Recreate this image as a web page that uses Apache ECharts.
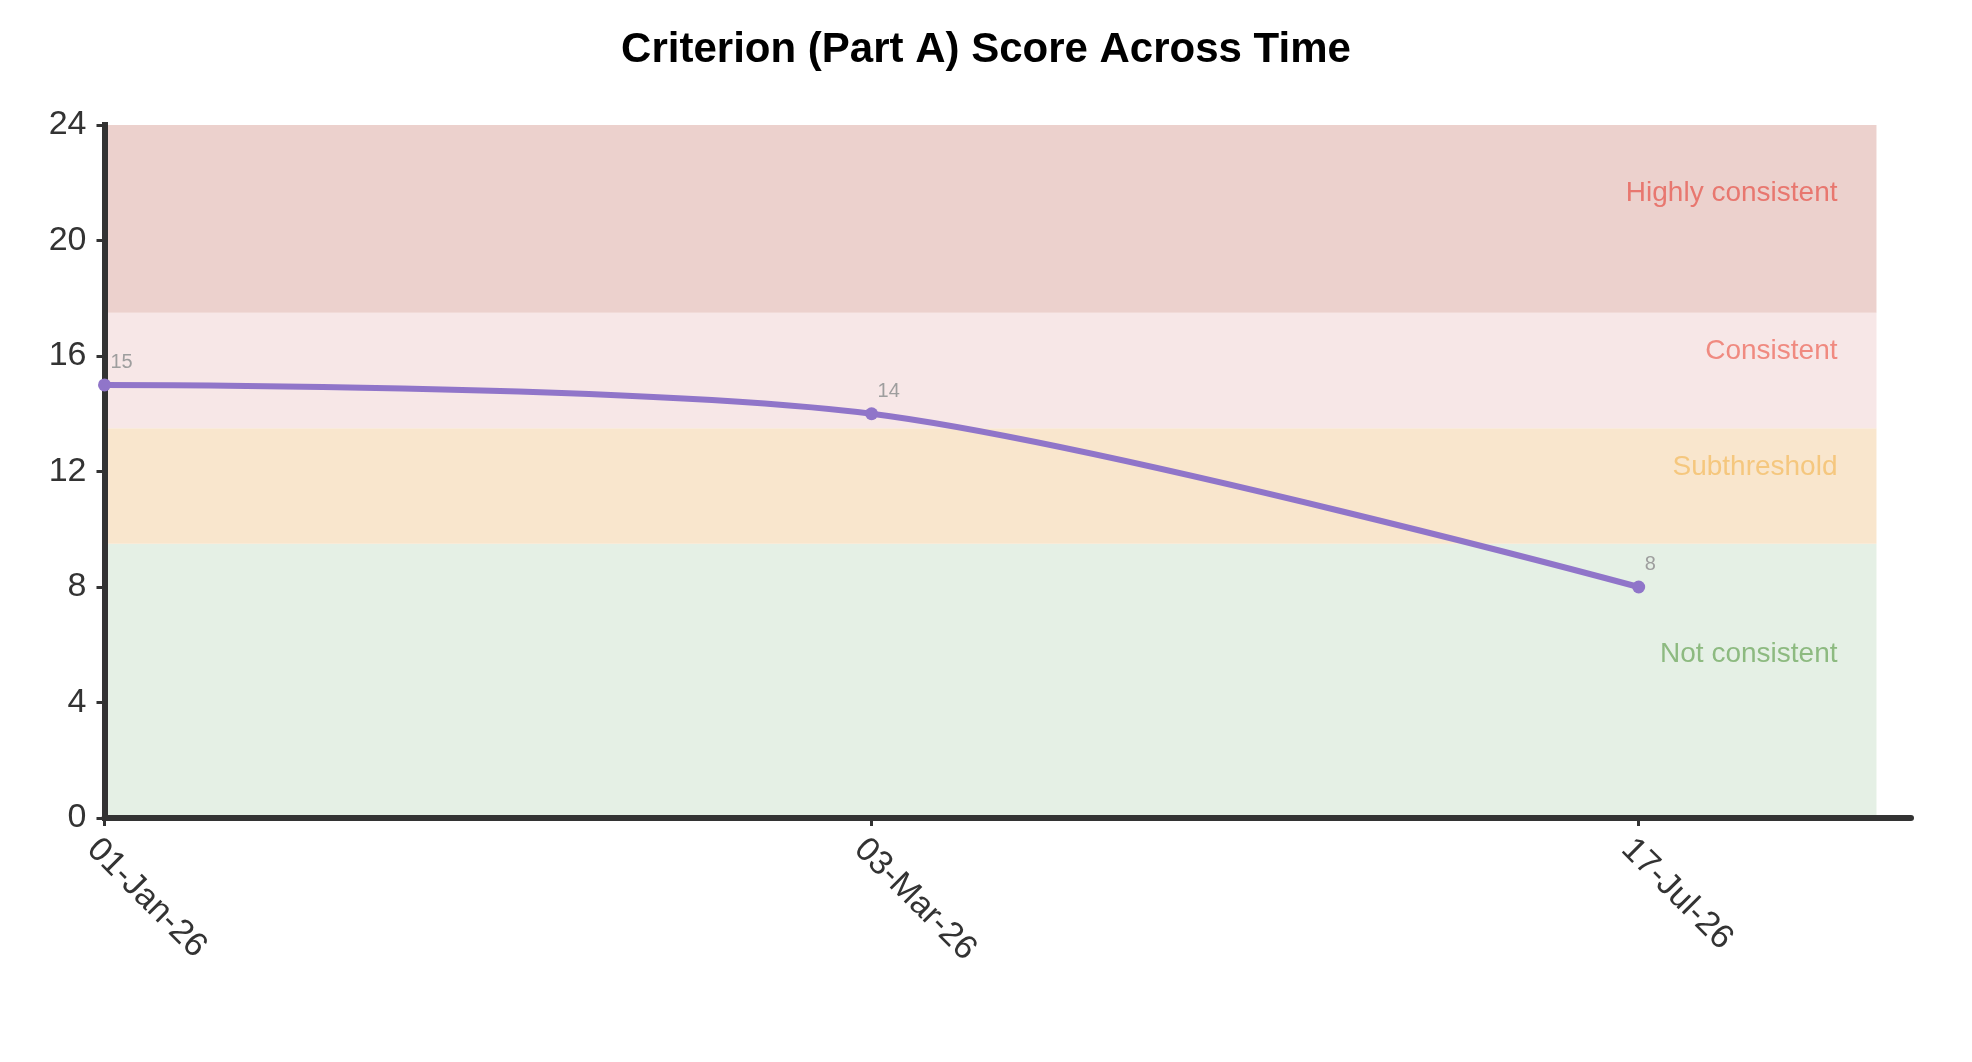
<!DOCTYPE html>
<html>
<head>
<meta charset="utf-8">
<script src="https://cdn.jsdelivr.net/npm/echarts@6/dist/echarts.min.js"></script>
<style>
html,body{margin:0;padding:0;background:#fff;}
#chart{width:1972px;height:1062px;}
</style>
</head>
<body>
<div id="chart"></div>
<script>
// ---- data ----
const categories = ['01-Jan-26', '03-Mar-26', '17-Jul-26'];
const scores = [15, 14, 8];
const yMin = 0, yMax = 24, yInterval = 4;
const bandNames = ['Not consistent', 'Subthreshold', 'Consistent', 'Highly consistent'];
const bandLow = [0, 9.5, 13.5, 17.5];
const bandHigh = [9.5, 13.5, 17.5, 24];
const bandFill = ['#E5F0E5', '#F9E6CD', '#F7E7E7', '#ECD1CD'];
const bandText = ['#8DBA80', '#F5C77E', '#F08A80', '#E8776F'];
const bandLabelDy = [97, 25, 25, 54];

const font = '"Liberation Sans", Arial, Helvetica, sans-serif';
const xMax = 2.355;   // axis extends past last date
const bandEnd = 2.31;  // bands stop a bit before axis end
const idx = categories.map((c, i) => i);

const chart = echarts.init(document.getElementById('chart'));
chart.setOption({
  animation: false,
  backgroundColor: '#fff',
  title: {
    text: 'Criterion (Part A) Score Across Time',
    left: 'center',
    top: 24,
    textStyle: {fontFamily: font, fontSize: 42, fontWeight: 'bold', color: '#000'}
  },
  grid: {left: 104.5, right: 61, top: 125, bottom: 244, containLabel: false},
  xAxis: {
    type: 'value', min: 0, max: xMax, z: 5,
    splitLine: {show: false},
    axisLine: {show: true, lineStyle: {color: '#333', width: 6}},
    axisTick: {show: true, customValues: idx, length: 8, lineStyle: {color: '#333', width: 3}},
    axisLabel: {
      customValues: idx, rotate: -45, margin: 14, verticalAlign: 'top',
      fontFamily: font, fontSize: 34, color: '#333',
      formatter: v => categories[Math.round(v)] || ''
    }
  },
  yAxis: {
    type: 'value', min: yMin, max: yMax, interval: yInterval, z: 5,
    splitLine: {show: false},
    axisLine: {show: true, lineStyle: {color: '#333', width: 6, cap: 'square'}},
    axisTick: {show: true, length: 8, lineStyle: {color: '#333', width: 3}},
    axisLabel: {margin: 18, fontFamily: font, fontSize: 34, color: '#333'}
  },
  series: [
    {
      type: 'line', z: 1, data: [], silent: true,
      markArea: {
        silent: true,
        data: bandNames.map((n, i) => [
          {
            name: n, xAxis: 0, yAxis: bandHigh[i],
            itemStyle: {color: bandFill[i], opacity: 1},
            label: {
              show: true, position: 'insideTopRight', distance: 0,
              offset: [-39, bandLabelDy[i]],
              fontFamily: font, fontSize: 28, color: bandText[i]
            }
          },
          {xAxis: bandEnd, yAxis: bandLow[i]}
        ])
      }
    },
    {
      type: 'line', z: 10,
      data: idx.map(i => [i, scores[i]]),
      smooth: 0.3,
      symbol: 'circle', symbolSize: 13,
      lineStyle: {color: '#9075C9', width: 6},
      itemStyle: {color: '#9075C9'},
      label: {
        show: true, position: 'top', align: 'left', offset: [6, -2], distance: 4,
        fontFamily: font, fontSize: 20, color: '#9e9e9e'
      }
    }
  ]
});
</script>
</body>
</html>
